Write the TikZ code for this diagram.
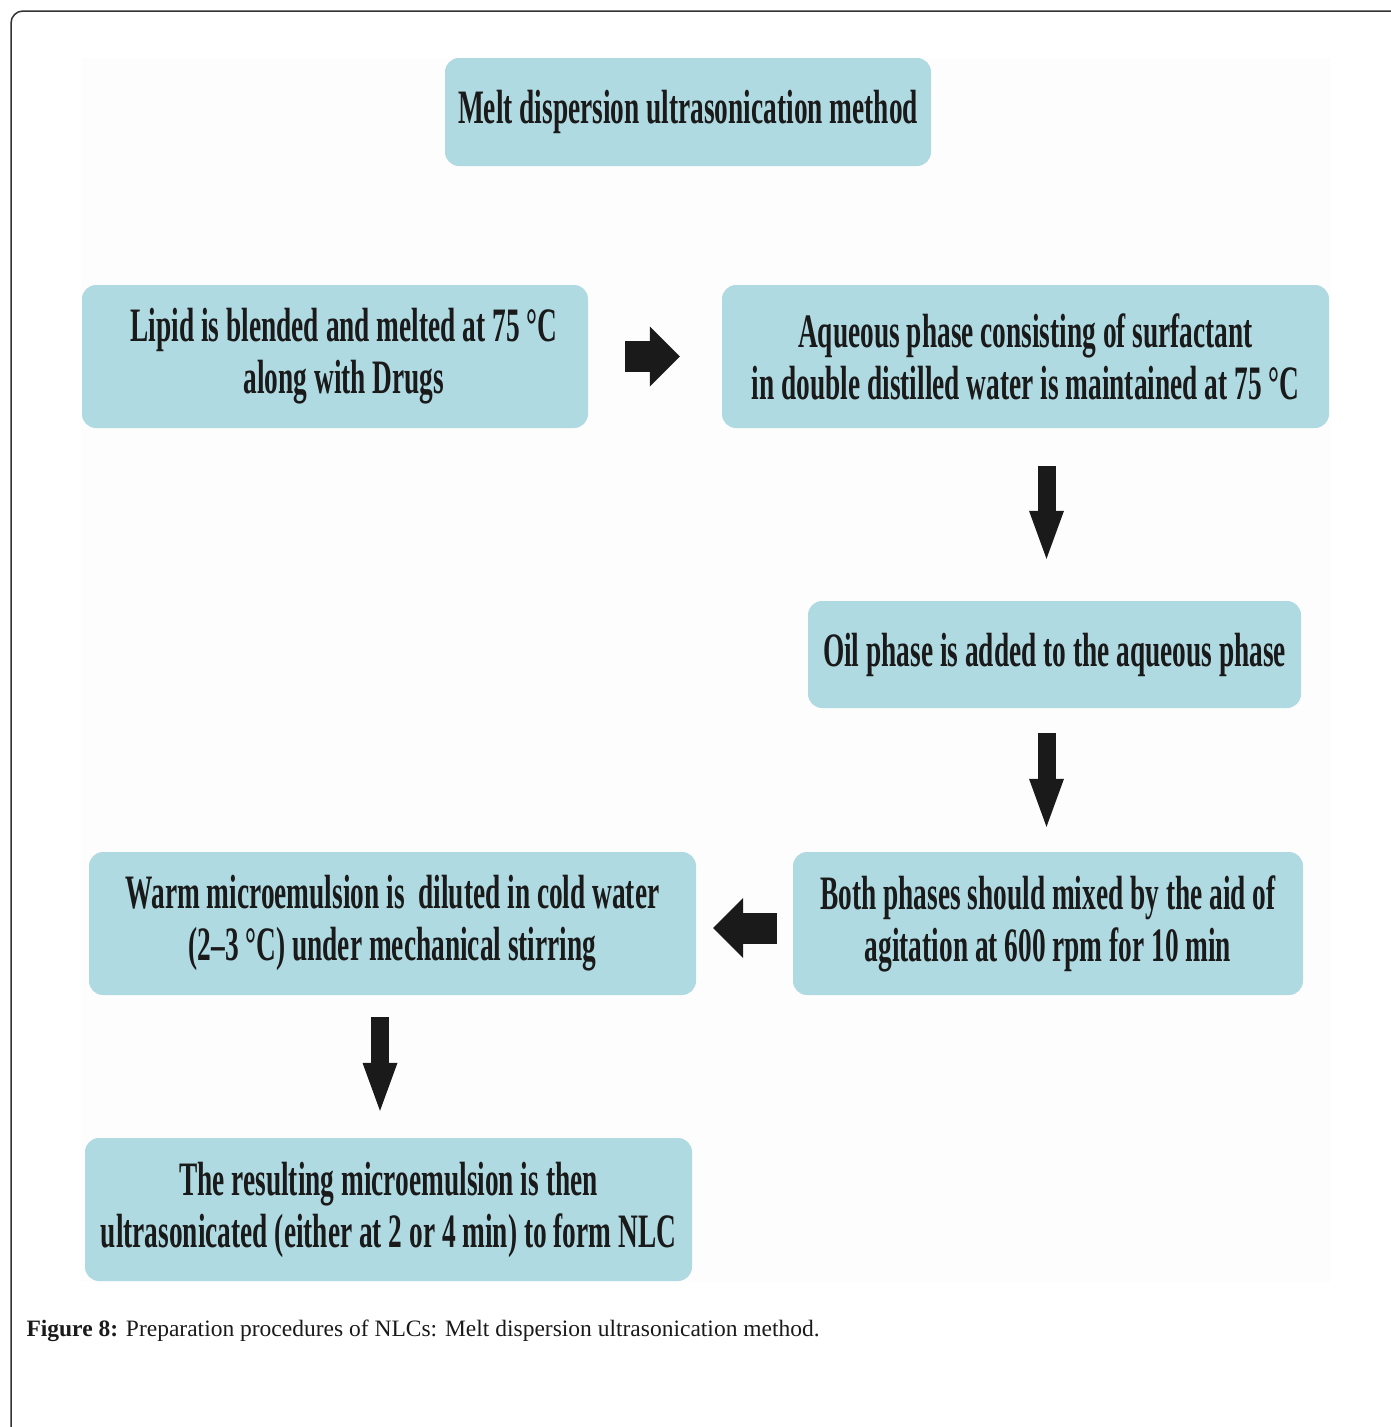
\documentclass[tikz,border=0pt]{standalone}
\usepackage{fontspec}
\setmainfont{Liberation Serif}
\newfontfamily\boxfont{Liberation Serif}[FakeStretch=0.57]
\usetikzlibrary{arrows.meta}

\definecolor{boxblue}{RGB}{176,218,226}
\definecolor{inkblack}{RGB}{26,26,26}
\definecolor{framegray}{RGB}{50,50,50}
\definecolor{paper}{RGB}{253,253,253}

\tikzset{
	stepbox/.style={rectangle, rounded corners=14pt, fill=boxblue, text=inkblack,
		align=center, inner sep=0pt,
		font=\boxfont\bfseries\fontsize{48}{52}\selectfont},
	harrow/.style={draw=inkblack, line width=31pt, -{Triangle[length=30pt,width=60pt,line width=0pt]}},
	varrow/.style={draw=inkblack, line width=18pt, -{Triangle[length=48pt,width=35pt,line width=0pt]}}
}

\begin{document}
\begin{tikzpicture}[x=1pt, y=-1pt]
	\useasboundingbox (0,0) rectangle (1390,1427);
	\draw[framegray, line width=1.5pt, rounded corners=12pt] (11,1440) -- (11,11) -- (1400,11);
	\fill[paper] (81,58) rectangle (1331,1282);

	\node[stepbox, minimum width=486pt, minimum height=108pt] (title) at (688,112) {\raisebox{2pt}{Melt dispersion ultrasonication method}};
	\node[stepbox, minimum width=506pt, minimum height=143pt] (lipid) at (335,356.5) {\hspace*{18pt}Lipid is blended and melted at 75 °C\\\hspace*{18pt}along with Drugs};
	\node[stepbox, minimum width=607pt, minimum height=143pt] (aqueous) at (1025.5,356.5) {Aqueous phase consisting of surfactant\\in double distilled water is maintained at 75 °C};
	\node[stepbox, minimum width=493pt, minimum height=107pt] (oil) at (1054.5,654.5) {Oil phase is added to the aqueous phase};
	\node[stepbox, minimum width=510pt, minimum height=143pt] (both) at (1048,923.5) {Both phases should mixed by the aid of\\agitation at 600 rpm for 10 min};
	\node[stepbox, minimum width=607pt, minimum height=143pt] (warm) at (392.5,923.5) {Warm microemulsion is~ diluted in cold water\\(2–3 °C) under mechanical stirring};
	\node[stepbox, minimum width=607pt, minimum height=143pt] (result) at (388.5,1209.5) {The resulting microemulsion is then\\ultrasonicated (either at 2 or 4 min) to form NLC};

	\draw[harrow, shorten <=37pt, shorten >=42pt] (lipid) to (aqueous);
	\draw[varrow, shorten <=38pt, shorten >=42pt] ([xshift=21pt]aqueous.south) to ([xshift=21pt]aqueous.south |- oil.north);
	\draw[varrow, shorten <=25pt, shorten >=25pt] ([xshift=-8pt]oil.south) to ([xshift=-8pt]oil.south |- both.north);
	\draw[harrow, shorten <=16pt, shorten >=17pt] ([yshift=-4.5pt]both.west) to ([yshift=-4.5pt]warm.east);
	\draw[varrow, shorten <=22pt, shorten >=27pt] ([xshift=-12.5pt]warm.south) to ([xshift=-12.5pt]warm.south |- result.north);

	\node[anchor=west, text=inkblack, font=\fontsize{23.5}{28}\selectfont] (caption) at (23,1331) {\textbf{Figure 8:} Preparation procedures of NLCs: Melt dispersion ultrasonication method.};
\end{tikzpicture}
\end{document}
